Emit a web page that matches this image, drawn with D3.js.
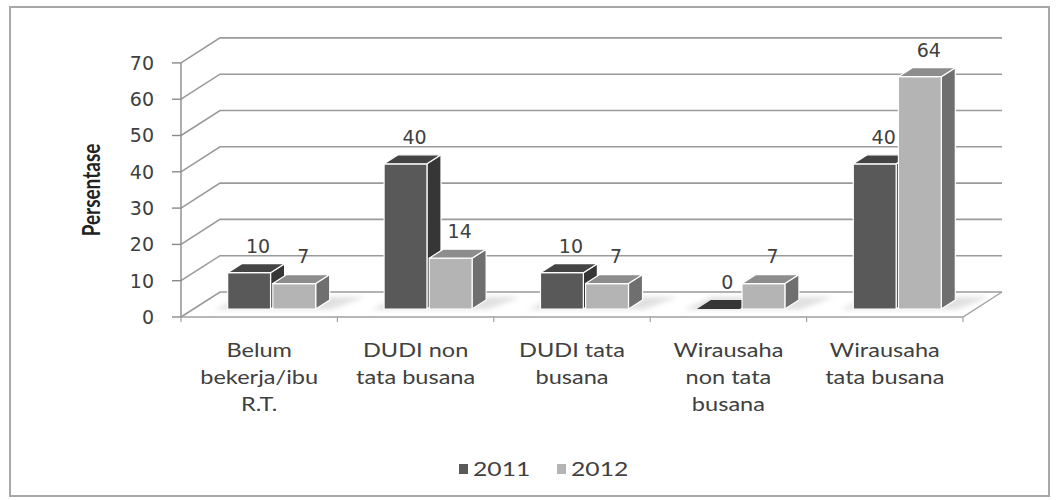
<!DOCTYPE html>
<html>
<head>
<meta charset="utf-8">
<script src="https://cdn.jsdelivr.net/npm/d3@7/dist/d3.min.js"></script>
<style>
  html, body { margin: 0; padding: 0; background: #fff; }
  svg { display: block; }
</style>
</head>
<body>
<svg id="chart" width="1059" height="500"></svg>
<script>
// Chart data
const categories = [
  "Belum\nbekerja/ibu\nR.T.",
  "DUDI non\ntata busana",
  "DUDI tata\nbusana",
  "Wirausaha\nnon tata\nbusana",
  "Wirausaha\ntata busana"
];
const years = ["2011", "2012"];
const values2011 = [10, 40, 10, 0, 40];
const values2012 = [7, 14, 7, 7, 64];
const yTicks = [0, 10, 20, 30, 40, 50, 60, 70];
const yLabel = "Persentase";

const svg = d3.select("#chart");

// Layout
const floorLeft = 181, floorRight = 963;
const depthX = 39, depthY = -25;          // full depth of the floor
const zFront = 0.32, zBack = 0.68;        // bar slab inside the floor depth
const textStretch = 1.24;

const y = d3.scaleLinear().domain([0, 70]).range([317, 62.9]);
const x = d3.scaleBand().domain(categories).range([floorLeft, floorRight]);
const xSeries = d3.scaleBand().domain(years).range([-44, 44]).paddingInner(0.05);
const color = {
  "2011": { front: "#595959", side: "#363636", top: "#444444" },
  "2012": { front: "#b4b4b4", side: "#6f6f6f", top: "#8d8d8d" }
};

const proj = (px, v, z) => [px + depthX * z, y(v) + depthY * z];
const poly = pts => "M" + pts.map(p => p.join(",")).join("L") + "Z";

const defs = svg.append("defs");
defs.append("filter").attr("id", "soft")
  .attr("x", "-20%").attr("y", "-50%").attr("width", "140%").attr("height", "200%")
  .append("feGaussianBlur").attr("stdDeviation", 2.5);

// Outer frame
svg.append("rect")
  .attr("x", 10).attr("y", 7).attr("width", 1039).attr("height", 489)
  .attr("fill", "#fff").attr("stroke", "#a8a8a8").attr("stroke-width", 2);

// Floor
const floor = [proj(floorLeft, 0, 0), proj(floorRight, 0, 0), proj(floorRight, 0, 1), proj(floorLeft, 0, 1)];
svg.append("path").attr("d", poly(floor)).attr("fill", "#fff").attr("stroke", "none");

// Gridlines on side wall and back wall
const grid = svg.append("g").attr("fill", "none").attr("stroke", "#9a9a9a").attr("stroke-width", 1.6);
yTicks.forEach(t => {
  const a = proj(floorLeft, t, 0), b = proj(floorLeft, t, 1), c = proj(floorRight, t, 1);
  grid.append("path").attr("d", "M" + [a, b, c].map(p => p.join(",")).join("L"));
});

// Floor front and right edges
svg.append("path")
  .attr("d", "M" + [proj(floorLeft, 0, 0), proj(floorRight, 0, 0), proj(floorRight, 0, 1)].map(p => p.join(",")).join("L"))
  .attr("fill", "none").attr("stroke", "#a0a0a0").attr("stroke-width", 1.4);

// Value axis
const axis = svg.append("g").attr("stroke", "#8a8a8a").attr("stroke-width", 1.4);
axis.append("line").attr("x1", floorLeft).attr("x2", floorLeft).attr("y1", y(70)).attr("y2", y(0));
yTicks.forEach(t => {
  axis.append("line").attr("x1", floorLeft - 9).attr("x2", floorLeft).attr("y1", y(t)).attr("y2", y(t));
});
svg.append("g").selectAll("text").data(yTicks).join("text")
  .attr("x", 154).attr("y", d => y(d)).attr("dy", "0.36em")
  .attr("text-anchor", "end")
  .attr("font-family", "DejaVu Sans, Verdana, sans-serif").attr("font-size", 19)
  .attr("fill", "#404040")
  .text(d => d);

// Category ticks
const catTicks = categories.map(c => x(c)).concat([floorRight]);
svg.append("g").attr("stroke", "#a0a0a0").attr("stroke-width", 1.2)
  .selectAll("line").data(catTicks).join("line")
  .attr("x1", d => d).attr("x2", d => d).attr("y1", y(0)).attr("y2", y(0) + 5);

// Bars
const bars = [];
categories.forEach((c, i) => {
  years.forEach(yr => {
    const v = yr === "2011" ? values2011[i] : values2012[i];
    const xl = x(c) + x.bandwidth() / 2 + xSeries(yr);
    bars.push({ c, yr, v, xl, xr: xl + xSeries.bandwidth() });
  });
});

// Soft shadow under each cluster
categories.forEach(c => {
  const cx = x(c) + x.bandwidth() / 2;
  const l = cx - 56, r = cx + 60;
  const pts = [proj(l, 0, zFront - 0.02), proj(r, 0, zFront - 0.02), proj(r + 14, 0, zBack + 0.12), proj(l + 8, 0, zBack + 0.12)];
  svg.append("path").attr("d", poly(pts)).attr("fill", "#c8c8c8").attr("opacity", 0.55).attr("filter", "url(#soft)");
});

const barG = svg.append("g").attr("stroke", "#fff").attr("stroke-width", 1.2).attr("stroke-linejoin", "round");
bars.forEach(b => {
  const col = color[b.yr];
  const front = [proj(b.xl, 0, zFront), proj(b.xr, 0, zFront), proj(b.xr, b.v, zFront), proj(b.xl, b.v, zFront)];
  const side = [proj(b.xr, 0, zFront), proj(b.xr, b.v, zFront), proj(b.xr, b.v, zBack), proj(b.xr, 0, zBack)];
  const top = [proj(b.xl, b.v, zFront), proj(b.xr, b.v, zFront), proj(b.xr, b.v, zBack), proj(b.xl, b.v, zBack)];
  if (b.v > 0) {
    barG.append("path").attr("d", poly(side)).attr("fill", col.side);
    barG.append("path").attr("d", poly(front)).attr("fill", col.front);
    barG.append("path").attr("d", poly(top)).attr("fill", col.top);
  } else {
    barG.append("path").attr("d", poly(top)).attr("fill", col.side).attr("stroke", "none");
  }
});

// Value labels
svg.append("g").selectAll("text").data(bars).join("text")
  .attr("x", d => (d.xl + d.xr) / 2 + depthX * zFront + 9)
  .attr("y", d => proj(d.xl, d.v, zFront)[1] - 27)
  .attr("dy", "0.36em")
  .attr("text-anchor", "middle")
  .attr("font-family", "DejaVu Sans, Verdana, sans-serif").attr("font-size", 19)
  .attr("fill", "#404040")
  .text(d => d.v);

// Category labels
const catG = svg.append("g")
  .attr("font-family", "Lato, sans-serif").attr("font-size", 19).attr("fill", "#404040");
categories.forEach(c => {
  const cx = x(c) + x.bandwidth() / 2;
  const t = catG.append("text")
    .attr("transform", `translate(${cx},350) scale(${textStretch},1)`)
    .attr("text-anchor", "middle");
  c.split("\n").forEach((line, k) => {
    t.append("tspan").attr("x", 0).attr("y", k * 27).attr("dy", "0.36em").text(line);
  });
});

// Axis title
svg.append("text")
  .attr("transform", `translate(91,190) scale(1.3,1) rotate(-90)`)
  .attr("text-anchor", "middle").attr("dy", "0.36em")
  .attr("font-family", "Lato, sans-serif").attr("font-weight", "bold").attr("font-size", 19)
  .attr("fill", "#222")
  .text(yLabel);

// Legend
const legendX = { "2011": 459, "2012": 557 };
const leg = svg.append("g");
years.forEach(yr => {
  leg.append("rect").attr("x", legendX[yr]).attr("y", 464).attr("width", 9).attr("height", 10)
    .attr("fill", color[yr].front);
  leg.append("text")
    .attr("transform", `translate(${legendX[yr] + 14},469) scale(1.3,1)`)
    .attr("dy", "0.36em")
    .attr("font-family", "Lato, sans-serif").attr("font-size", 19).attr("fill", "#404040")
    .text(yr);
});
</script>
</body>
</html>
